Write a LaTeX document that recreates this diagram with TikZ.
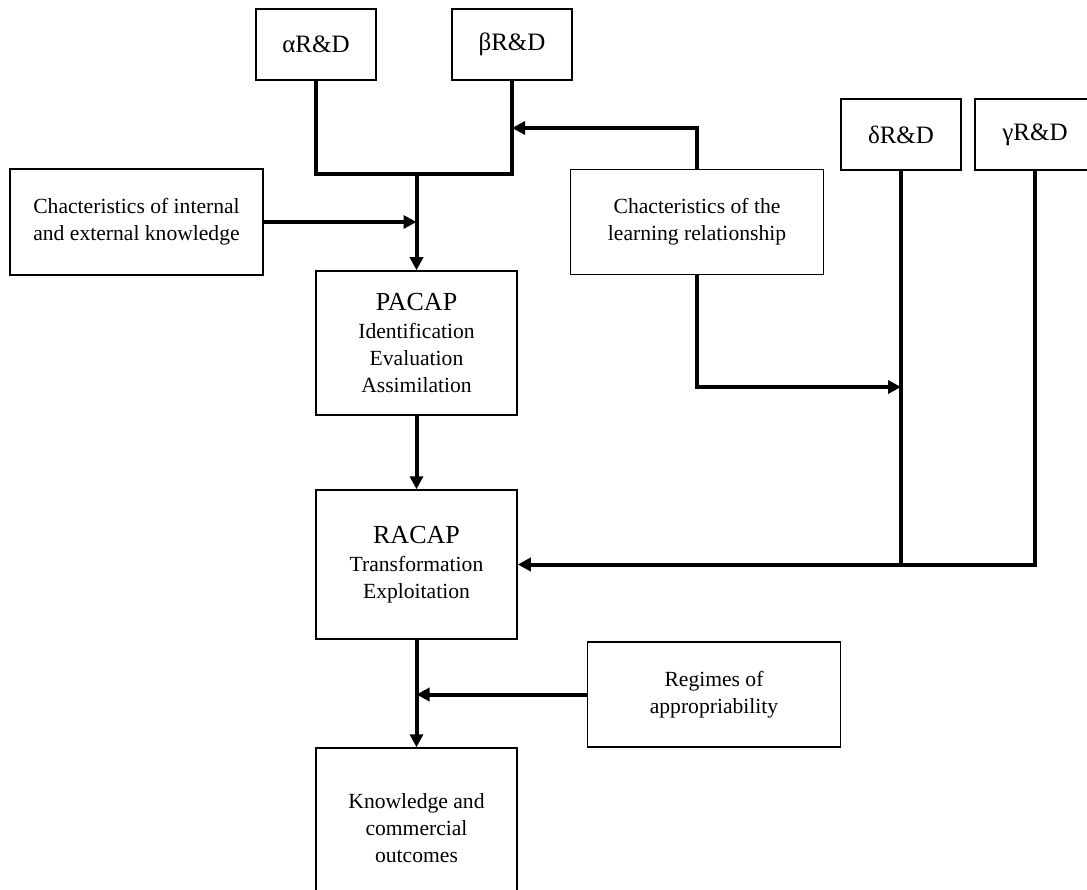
\documentclass[tikz,border=0pt]{standalone}
\usepackage{fontspec}
\setmainfont{Liberation Serif}
\usetikzlibrary{arrows.meta}

\tikzset{
	box/.style={draw, line width=1.5pt, align=center, inner sep=0pt, font=\fontsize{21.6}{26.8}\selectfont},
	rdbox/.style={box, minimum width=120, minimum height=71, font=\fontsize{25}{30}\selectfont},
	link/.style={line width=4pt},
	arr/.style={link, -{Triangle[length=13pt,width=13pt]}}
}
\newcommand{\capt}[1]{{\fontsize{26}{30}\selectfont #1}\\[1pt]}

\begin{document}
\begin{tikzpicture}[x=1pt, y=-1pt]
	\useasboundingbox (0,0) rectangle (1087,890);
	
	\node[rdbox] (alpha) at (316, 44.5) {αR\&D};
	\node[rdbox] (beta) at (512, 44.5) {βR\&D};
	\node[rdbox] (delta) at (901, 134.5) {δR\&D};
	\node[rdbox] (gamma) at (1035, 134.5) {γR\&D};
	
	\node[box, minimum width=253, minimum height=106] (internal) at (136.5, 222) {Chacteristics of internal\\and external knowledge};
	\node[box, minimum width=253, minimum height=105] (learn) at (697, 222) {Chacteristics of the\\learning relationship};
	
	\node[box, minimum width=201, minimum height=144] (pacap) at (416.5, 343) {\capt{PACAP}Identification\\Evaluation\\Assimilation};
	\node[box, minimum width=201, minimum height=149] (racap) at (416.5, 564.5) {\capt{RACAP}Transformation\\Exploitation};
	\node[box, minimum width=253, minimum height=105] (regimes) at (714, 694.5) {Regimes of\\appropriability};
	\node[box, minimum width=201, minimum height=160] (outcomes) at (416.5, 828) {Knowledge and\\commercial\\outcomes};
	
	\coordinate (jn) at (416.5, 174);
	\coordinate (bj) at (512, 128);
	\coordinate (dj) at (901, 387);
	
	\draw[link] (alpha.south) |- (jn) -| (beta.south);
	\draw[arr] (jn) -- (pacap.north);
	\draw[arr] (internal.east) -- (internal.east -| pacap.north);
	
	\draw[arr] (learn.north) |- (bj);
	\draw[arr] (learn.south) |- (dj);
	
	\draw[link] (delta.south) -- (delta.south |- racap.east);
	\draw[arr] (gamma.south) |- (racap.east);
	
	\draw[arr] (pacap.south) -- (racap.north);
	\draw[arr] (racap.south) -- (outcomes.north);
	\draw[arr] (regimes.west) -- (regimes.west -| racap.south);
\end{tikzpicture}
\end{document}
